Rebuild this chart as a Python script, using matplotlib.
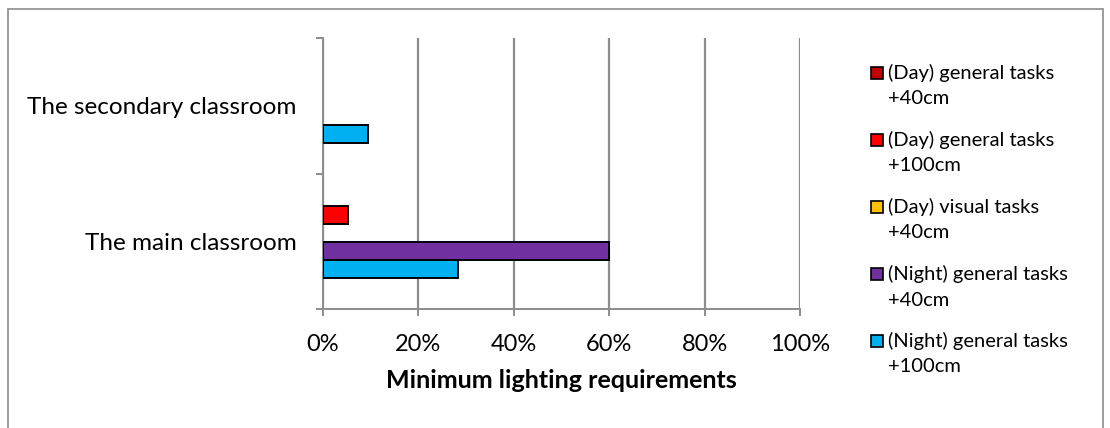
import numpy as np
import matplotlib
matplotlib.use("Agg")
import matplotlib.pyplot as plt
from matplotlib.patches import Rectangle
from matplotlib.ticker import PercentFormatter

# data
categories = ["The main classroom", "The secondary classroom"]
series_names = ["(Day) general tasks\n+40cm",
                "(Day) general tasks\n+100cm",
                "(Day) visual tasks\n+40cm",
                "(Night) general tasks\n+40cm",
                "(Night) general tasks\n+100cm"]
day_general_40 = [0.0, 0.0]
day_general_100 = [0.053, 0.0]
day_visual_40 = [0.0, 0.0]
night_general_40 = [0.60, 0.0]
night_general_100 = [0.283, 0.095]
colors = ["#C00000", "#FF0000", "#FFC000", "#7030A0", "#00B0F0"]

plt.rcParams['font.family'] = ['Lato', 'DejaVu Sans']

fig = plt.figure(figsize=(11.1, 4.28), dpi=100)
ax = fig.add_axes([323/1110, 1-309/428, 477/1110, 271/428])

all_series = [day_general_40, day_general_100, day_visual_40,
              night_general_40, night_general_100]
y = np.arange(len(categories))
h = 0.1333
grid_c = "#8c8c8c"

# first series on top, last at the bottom of each group
for k, vals in enumerate(all_series):
    vals = np.array(vals)
    off = (2 - k) * h + 0.06
    lw = np.where(vals > 0, 1.4, 0)
    ax.barh(y + off, vals, height=h, color=colors[k], edgecolor="black",
            linewidth=lw, zorder=3)

ax.set_xlim(0, 1)
ax.set_ylim(-0.5, 1.5)
ax.set_xticks(np.arange(0, 1.01, 0.2))
ax.xaxis.set_major_formatter(PercentFormatter(1.0, decimals=0))
ax.grid(axis="x", color=grid_c, linewidth=1.6, zorder=0)
ax.set_axisbelow(True)

ax.set_yticks([-0.5, 0.5, 1.5])
ax.set_yticklabels([])
ax.set_yticks(y, minor=True)
ax.set_yticklabels(categories, minor=True, fontsize=17.5)
ax.tick_params(axis="y", which="minor", length=0, pad=19)
ax.tick_params(axis="y", which="major", length=5, width=1.4, color=grid_c)
ax.tick_params(axis="x", length=5, width=1.4, color=grid_c, labelsize=17, pad=13)

for s in ["top", "right"]:
    ax.spines[s].set_visible(False)
for s in ["left", "bottom"]:
    ax.spines[s].set_color(grid_c)
    ax.spines[s].set_linewidth(1.4)

ax.set_xlabel("Minimum lighting requirements", fontsize=18, fontweight="bold",
              labelpad=10)

# legend drawn by hand: square aligned to first line
for k, name in enumerate(series_names):
    first, second = name.split("\n")
    ly = 1 - (140 + (k - 1) * 67) / 428
    fig.patches.append(Rectangle((871/1110, ly - 6/428), 12/1110, 12/428,
                                 transform=fig.transFigure, facecolor=colors[k],
                                 edgecolor="black", linewidth=1.2))
    fig.text(888/1110, ly, first, fontsize=14.5, va="center", ha="left")
    fig.text(888/1110, ly - 26/428, second, fontsize=14.5, va="center", ha="left")

# outer chart border
fig.patches.append(Rectangle((8/1110, -0.05), 1095/1110, 1 - 9/428 + 0.05,
                             transform=fig.transFigure, fill=False,
                             edgecolor="#8c8c8c", linewidth=1.2))

fig.savefig("out.png", dpi=100)
